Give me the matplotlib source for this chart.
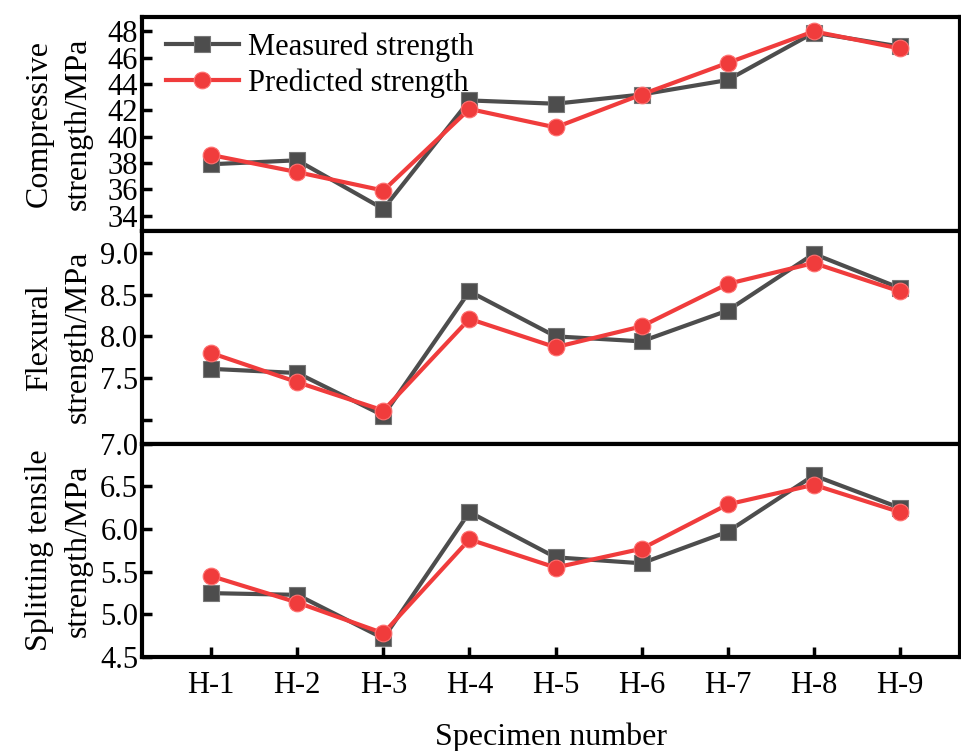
import numpy as np
from matplotlib import pyplot as plt

specimens = ["H-1", "H-2", "H-3", "H-4", "H-5", "H-6", "H-7", "H-8", "H-9"]

comp_measured = [37.9, 38.2, 34.5, 42.75, 42.5, 43.2, 44.3, 47.9, 46.85]
comp_predicted = [38.6, 37.3, 35.9, 42.1, 40.7, 43.2, 45.6, 48.0, 46.7]

flex_measured = [7.61, 7.56, 7.05, 8.54, 8.0, 7.94, 8.31, 8.99, 8.58]
flex_predicted = [7.8, 7.45, 7.11, 8.21, 7.87, 8.12, 8.63, 8.88, 8.54]

split_measured = [5.25, 5.23, 4.72, 6.2, 5.67, 5.6, 5.97, 6.63, 6.25]
split_predicted = [5.45, 5.14, 4.78, 5.88, 5.55, 5.77, 6.29, 6.52, 6.2]

plt.rcParams['font.family'] = ['Liberation Serif', 'DejaVu Serif']
plt.rcParams['font.size'] = 22

GRAY = '#4d4d4d'
RED = '#f03c3c'


def main():
    fig = plt.figure(figsize=(9.62, 7.51), dpi=100)
    gs = fig.add_gridspec(3, 1, left=0.148, right=0.998, top=0.977, bottom=0.125, hspace=0)
    axes = [fig.add_subplot(gs[i]) for i in range(3)]
    x = np.arange(1, len(specimens) + 1)

    panels = [
        (comp_measured, comp_predicted, (32.86, 49.07), np.arange(34, 49, 2), None,
         "Compressive\nstrength/MPa"),
        (flex_measured, flex_predicted, (6.71, 9.27), [7.0, 7.5, 8.0, 8.5, 9.0],
         ["", "7.5", "8.0", "8.5", "9.0"], "Flexural\nstrength/MPa"),
        (split_measured, split_predicted, (4.5, 7.0), [4.5, 5.0, 5.5, 6.0, 6.5, 7.0], None,
         "Splitting tensile\nstrength/MPa"),
    ]

    for ax, (meas, pred, ylim, yticks, ylabels, ylab) in zip(axes, panels):
        ax.plot(x, meas, color=GRAY, lw=3, marker='s', ms=11, mec='#777777', mew=0.8,
                label="Measured strength")
        ax.plot(x, pred, color=RED, lw=3, marker='o', ms=12, mec='#ff7070', mew=0.8,
                label="Predicted strength")
        ax.set_xlim(0.2, 9.7)
        ax.set_ylim(*ylim)
        ax.set_yticks(yticks)
        if ylabels is not None:
            ax.set_yticklabels(ylabels)
        ax.set_ylabel(ylab, fontsize=23, linespacing=1.45, labelpad=5)
        ax.tick_params(axis='both', direction='in', length=7, width=2.5, pad=4)
        ax.tick_params(axis='y', pad=3)
        for sp in ax.spines.values():
            sp.set_linewidth(3)
        ax.set_xticks(x)
        if ax is not axes[-1]:
            ax.tick_params(axis='x', bottom=False, labelbottom=False)

    axes[-1].set_xticklabels(specimens)
    axes[-1].tick_params(axis='x', pad=10)
    axes[-1].set_xlabel("Specimen number", fontsize=23, labelpad=16)

    axes[0].legend(loc='upper left', frameon=False, handlelength=2.4, borderaxespad=0.1,
                   handletextpad=0.3, labelspacing=0.2, bbox_to_anchor=(0.01, 1.0))

    fig.align_ylabels(axes)
    fig.savefig("out.png", dpi=100)


if __name__ == "__main__":
    main()
